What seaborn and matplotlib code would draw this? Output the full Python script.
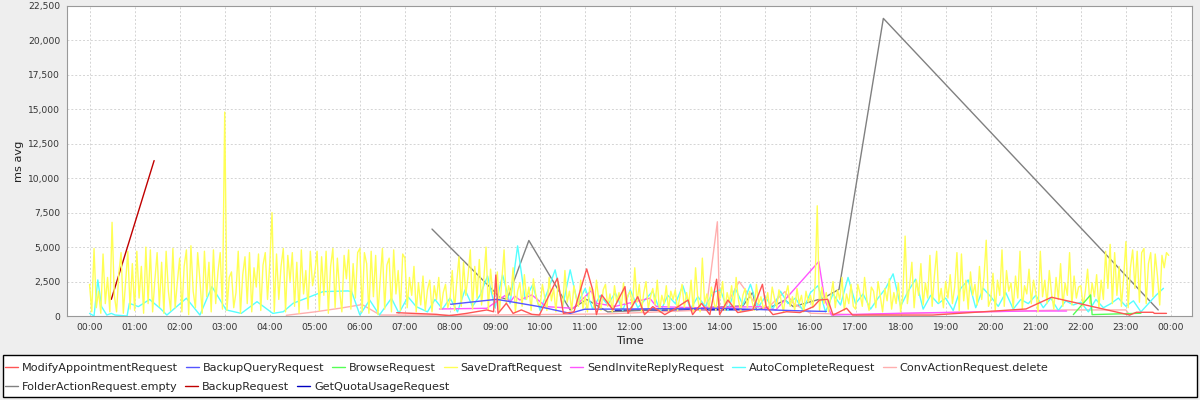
import pandas as pd
import numpy as np
import matplotlib
matplotlib.use("Agg")
import matplotlib.pyplot as plt
import matplotlib.dates as mdates
from matplotlib.ticker import FuncFormatter, MultipleLocator
from matplotlib.lines import Line2D
from matplotlib.patches import Rectangle
import seaborn as sns

DAY = "2024-01-01"

# series names in legend order, with JFreeChart default colours
series_names = ["ModifyAppointmentRequest", "BackupQueryRequest", "BrowseRequest",
                "SaveDraftRequest", "SendInviteReplyRequest", "AutoCompleteRequest",
                "ConvActionRequest.delete", "FolderActionRequest.empty", "BackupRequest",
                "GetQuotaUsageRequest"]
series_colors = ["#ff5555", "#5555ff", "#55ff55", "#ffff55", "#ff55ff", "#55ffff",
                 "#ffafaf", "#808080", "#c00000", "#0000c0"]

# SaveDraftRequest, one value every 3 minutes, one row per hour
savedraft_ms = [
    2300, 300, 4900, 600, 1800, 200, 4500, 900, 2800, 300, 6800, 1500, 300, 3100, 4600, 200, 2400, 4700, 500, 3800,
    400, 4700, 1300, 3600, 200, 5000, 900, 4800, 300, 2600, 4600, 700, 3900, 200, 4700, 1800, 400, 4900, 600, 2500,
    4200, 300, 3600, 4800, 100, 5100, 1800, 600, 4600, 2600, 200, 4700, 1400, 3900, 300, 4800, 900, 3200, 4600, 500,
    14800, 400, 2800, 3200, 600, 1700, 4700, 200, 3000, 4300, 900, 4600, 300, 3500, 2100, 4500, 400, 3700, 4600, 1200,
    3800, 7500, 300, 4500, 1200, 3600, 4900, 300, 4400, 2500, 4600, 700, 3900, 200, 4800, 1600, 3300, 500, 4700, 2200,
    3200, 4700, 400, 4300, 1500, 4700, 200, 3600, 4900, 600, 4200, 1800, 300, 4400, 2700, 4800, 500, 3800, 1300, 4600,
    4900, 300, 4600, 3800, 200, 4700, 1400, 4400, 100, 2600, 4900, 500, 3700, 4200, 300, 4800, 1600, 3300, 400, 4500,
    4200, 600, 2800, 1500, 3600, 300, 2400, 800, 2900, 400, 1900, 2600, 300, 2200, 1200, 2800, 500, 1700, 2300, 600,
    1200, 3300, 400, 2500, 4300, 700, 3900, 1500, 2900, 4800, 500, 3600, 1300, 4100, 800, 2700, 5000, 400, 3400, 1600,
    1600, 3200, 400, 2600, 4800, 900, 2200, 1500, 3500, 300, 1800, 2400, 700, 3000, 1200, 2100, 400, 2700, 1600, 900,
    700, 2300, 1400, 400, 2800, 1100, 2000, 300, 2500, 1500, 600, 3300, 1000, 1800, 400, 2200, 1300, 700, 2600, 500,
    1400, 300, 2100, 1800, 500, 2600, 1200, 400, 1900, 2300, 700, 1600, 300, 2200, 1000, 1700, 500, 2400, 900, 1500,
    1800, 600, 3500, 1000, 2300, 300, 1700, 2500, 500, 1400, 2000, 800, 2600, 300, 1500, 900, 2200, 400, 1800, 1200,
    1900, 400, 1400, 2300, 600, 1700, 900, 2600, 300, 3500, 1200, 300, 4200, 900, 1600, 500, 2100, 1100, 400, 1800,
    1300, 2500, 400, 1700, 1000, 2200, 500, 2800, 1200, 300, 1500, 2000, 600, 1800, 1100, 400, 2300, 900, 1400, 600,
    800, 1700, 400, 2100, 1300, 600, 1900, 1100, 300, 1600, 2200, 700, 1400, 400, 2000, 900, 1500, 300, 1800, 1000,
    1500, 600, 2200, 8000, 400, 2100, 900, 1700, 300, 1400, 2500, 600, 1900, 1200, 2800, 400, 1600, 900, 2300, 700,
    500, 2300, 1600, 700, 2800, 1200, 400, 2100, 1800, 600, 2500, 1400, 300, 2000, 1100, 2700, 500, 1700, 900, 2400,
    300, 1500, 5800, 900, 2200, 3900, 600, 2600, 1500, 3800, 800, 2400, 1300, 4400, 700, 2900, 4700, 1000, 2000, 600,
    2500, 1300, 3000, 900, 2100, 4600, 400, 4500, 1100, 2600, 500, 3200, 1500, 2300, 800, 3600, 1200, 2800, 5500, 700,
    1200, 3100, 400, 2600, 1500, 4800, 700, 3300, 1800, 2400, 600, 2900, 1300, 4700, 500, 2200, 1600, 3400, 900, 2600,
    1700, 300, 4700, 1400, 2600, 900, 3300, 1600, 500, 2800, 1200, 3800, 700, 2400, 1500, 4600, 800, 2900, 1300, 2100,
    2200, 700, 1800, 3400, 900, 2400, 1400, 3000, 600, 2600, 1200, 4700, 2000, 5200, 900, 4600, 1500, 3600, 700, 2800,
    5400, 600, 3500, 4800, 2000, 4700, 1000, 4600, 4900, 900, 3800, 4600, 1400, 4500, 2900, 800, 4400, 3500, 4600, 4400,
]

# AutoCompleteRequest: irregular until 08:00, then every 10 minutes
autocomplete_early_times = ["00:00", "00:06", "00:11", "00:16", "00:23", "00:29", "00:34",
                            "00:50", "00:53", "01:05", "01:20", "01:34", "01:43", "02:09",
                            "02:27", "02:43", "03:02", "03:22", "03:43", "04:04", "04:18",
                            "04:31", "05:11", "05:44", "05:49", "06:00", "06:13", "06:26",
                            "06:42", "06:52", "07:04", "07:15", "07:30", "07:40", "07:50"]
autocomplete_early_ms = [190, 0, 2620, 680, 70, 190, 70,
                         0, 920, 680, 1200, 560, 70, 1290,
                         70, 2130, 440, 190, 1040, 190, 310,
                         920, 1770, 1820, 1770, 70, 1160, 70,
                         1290, 200, 1400, 680, 300, 1200, 500]
autocomplete_ms = [
    1300, 300, 1900, 700, 1500, 2900,
    600, 2980, 900, 5090, 1200, 2260,
    400, 1800, 3350, 700, 3350, 900,
    2000, 500, 1500, 800, 1700, 400,
    1900, 600, 1200, 1800, 300, 1500,
    900, 2200, 500, 1400, 700, 1700,
    1900, 400, 2000, 800, 2300, 600,
    1400, 500, 1800, 900, 1300, 400,
    1700, 2200, 300, 1600, 800, 2800,
    900, 1600, 500, 1300, 2000, 3060,
    700, 1800, 2670, 500, 1500, 900,
    1300, 400, 2000, 2620, 600, 2010,
    1400, 700, 1700, 500, 1200, 900,
    1500, 600, 1300, 400, 1100, 800,
    1000, 300, 1200, 600, 900, 1300,
    700, 1100, 300, 900, 1500, 2010,
]

modify_times = ["06:49", "07:42", "07:59", "08:22", "08:49", "08:58", "09:01", "09:04",
                "09:15", "09:24", "09:35", "09:49", "09:59", "10:23", "10:31", "10:45",
                "11:02", "11:10", "11:15", "11:22", "11:37", "11:53", "11:57", "12:10",
                "12:19", "12:30", "12:46", "12:57", "13:17", "13:23", "13:35", "13:46",
                "13:55", "13:59", "14:10", "14:23", "14:43", "14:56", "15:01", "15:10",
                "15:28", "15:46", "16:04", "16:12", "16:23", "16:30", "16:39", "16:48",
                "16:56", "18:43", "20:47", "21:21", "23:05", "23:14", "23:36", "23:38",
                "23:54"]
modify_ms = [240, 120, 20, 190, 440, 310, 2980, 190,
             920, 190, 440, 120, 70, 2740, 190, 300,
             3420, 1890, 100, 1530, 440, 2130, 190, 1400,
             100, 680, 100, 440, 1160, 100, 920, 100,
             2670, 100, 1160, 250, 440, 2300, 680, 100,
             310, 250, 680, 1160, 1210, 70, 310, 560,
             70, 70, 510, 1360, 70, 270, 270, 190,
             190]

backupquery_times = ["08:01", "09:02", "09:13", "09:59", "10:40", "10:59", "11:59", "13:59",
                     "15:55", "16:21"]
backupquery_ms = [850, 1210, 1110, 680, 190, 490, 510, 560, 360, 330]

browse_times = ["21:50", "22:13", "22:15", "23:20"]
browse_ms = [100, 1530, 100, 200]

sendinvite_times = ["07:46", "08:49", "09:13", "09:20", "09:26", "09:33", "09:49", "10:08",
                    "10:44", "11:08", "11:15", "11:40", "12:26", "12:35", "13:30", "14:52",
                    "15:14", "16:11", "16:19", "16:28", "18:00", "20:47", "21:41"]
sendinvite_ms = [510, 560, 1480, 1000, 1450, 1160, 1530, 680,
                 560, 1840, 920, 700, 1290, 680, 600, 680,
                 440, 3950, 1160, 70, 200, 360, 360]

convdelete_times = ["04:22", "05:00", "05:33", "06:03", "06:27", "08:30", "11:30", "13:41",
                    "13:56", "13:59", "14:07", "14:25", "14:43", "15:00", "15:26", "15:37",
                    "16:00", "17:00", "21:40", "23:00", "23:05"]
convdelete_ms = [50, 300, 560, 830, 70, 60, 150, 440,
                 6840, 440, 680, 2500, 1160, 440, 1770, 920,
                 200, 100, 440, 440, 50]

folderempty_times = ["07:36", "08:59", "09:05", "09:16", "09:45", "10:40", "11:02", "11:30",
                     "14:30", "14:43", "14:48", "15:11", "15:26", "15:37", "16:17", "16:38",
                     "17:37", "23:43"]
folderempty_ms = [6310, 1770, 1400, 1200, 5480, 440, 1200, 300,
                  730, 1720, 440, 730, 1160, 680, 1290, 1940,
                  21600, 440]

backup_times = ["00:29", "01:26"]
backup_ms = [1210, 11280]

quota_times = ["11:40", "14:40"]
quota_ms = [420, 460]


def frame(name, times, values):
    return pd.DataFrame({"Time": times, "ms avg": values, "series": name})


def clock(times):
    return pd.to_datetime([DAY + " " + t for t in times])


cyan_times = clock(autocomplete_early_times).append(
    pd.date_range(DAY + " 08:00", periods=len(autocomplete_ms), freq="10min"))

df = pd.concat([
    frame("ModifyAppointmentRequest", clock(modify_times), modify_ms),
    frame("BackupQueryRequest", clock(backupquery_times), backupquery_ms),
    frame("BrowseRequest", clock(browse_times), browse_ms),
    frame("SaveDraftRequest", pd.date_range(DAY, periods=len(savedraft_ms), freq="3min"), savedraft_ms),
    frame("SendInviteReplyRequest", clock(sendinvite_times), sendinvite_ms),
    frame("AutoCompleteRequest", cyan_times, autocomplete_early_ms + autocomplete_ms),
    frame("ConvActionRequest.delete", clock(convdelete_times), convdelete_ms),
    frame("FolderActionRequest.empty", clock(folderempty_times), folderempty_ms),
    frame("BackupRequest", clock(backup_times), backup_ms),
    frame("GetQuotaUsageRequest", clock(quota_times), quota_ms),
], ignore_index=True)

sns.set_style("white")
plt.rcParams["font.family"] = ["DejaVu Sans"]

fig = plt.figure(figsize=(12, 4), dpi=100, facecolor="#eeeeee")
ax = fig.add_axes([67 / 1200, 1 - 316 / 400, 1125 / 1200, 310 / 400])
ax.set_facecolor("white")

palette = dict(zip(series_names, series_colors))
# JFreeChart draws the first series last, so it ends up on top
sns.lineplot(data=df, x="Time", y="ms avg", hue="series", hue_order=series_names[::-1],
             palette=palette, estimator=None, linewidth=1, legend=False, ax=ax)

day0 = pd.Timestamp(DAY)
ax.set_xlim(day0 - pd.Timedelta(minutes=30), day0 + pd.Timedelta(hours=24, minutes=28))
ax.set_ylim(0, 22500)
ax.xaxis.set_major_locator(mdates.HourLocator(interval=1))
ax.xaxis.set_major_formatter(mdates.DateFormatter("%H:%M"))
ax.yaxis.set_major_locator(MultipleLocator(2500))
ax.yaxis.set_major_formatter(FuncFormatter(lambda v, _: f"{int(v):,}"))

ax.grid(True, color="#d4d4d4", linestyle=(0, (2, 2)), linewidth=0.7)
for s in ax.spines.values():
    s.set_color("#999999")
    s.set_linewidth(0.8)
ax.tick_params(axis="both", length=2, color="#999999", labelsize=6.6, labelcolor="#333333", pad=3)
ax.set_xlabel("Time", fontsize=8.2, color="#222222", labelpad=3)
ax.set_ylabel("ms avg", fontsize=8.2, color="#222222", labelpad=3)

# legend box at the bottom, two rows that flow on their own like JFreeChart
fig.patches.append(Rectangle((3 / 1200, 3 / 400), 1194 / 1200, 42 / 400, transform=fig.transFigure,
                             facecolor="white", edgecolor="black", linewidth=1, zorder=0))
handles = [Line2D([], [], color=c, linewidth=1) for c in series_colors]
rows = [(list(range(0, 7)), 368), (list(range(7, 10)), 387)]
for idx, ypix in rows:
    fig.legend([handles[i] for i in idx], [series_names[i] for i in idx],
               loc="center left", bbox_to_anchor=(5 / 1200, 1 - ypix / 400), ncol=len(idx),
               frameon=False, fontsize=8.1, handlelength=1.15, handletextpad=0.35,
               columnspacing=0.7, borderpad=0, borderaxespad=0)

fig.savefig("out.png", dpi=100, facecolor=fig.get_facecolor())
